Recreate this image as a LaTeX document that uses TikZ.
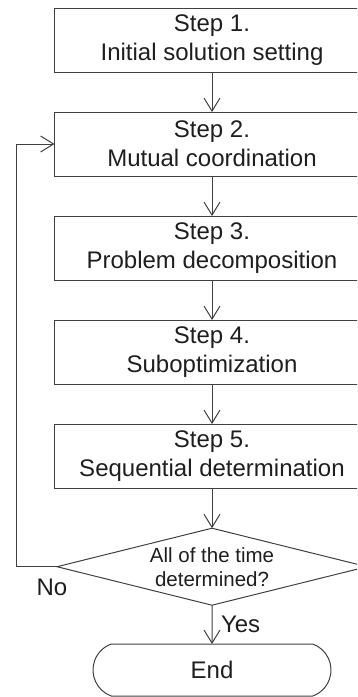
\documentclass[tikz,border=0pt]{standalone}
\usepackage{fontspec}
\setmainfont{Liberation Sans}
\usepackage{tikz}
\usetikzlibrary{shapes.geometric,shapes.misc,arrows.meta}
\definecolor{flowLine}{RGB}{64,64,64}
\definecolor{flowText}{RGB}{30,30,30}

\begin{document}
\begin{tikzpicture}[x=1pt, y=1pt, line width=1pt]%
  \tikzset{normal arrow/.style={draw,-{Straight Barb[length=13pt,width=16pt]},flowLine}}
  \tikzstyle{every node}=[draw=flowLine, text=flowText, outer sep=0pt, inner sep=0pt, align=center, font=\fontsize{24}{29}\selectfont]
  \tikzstyle{stepbox}=[rectangle, minimum width=315pt, minimum height=64pt, node distance=104pt]

  \useasboundingbox (0,0) rectangle (357,-697);
  \clip (0,0) rectangle (357,-697);

  \node[stepbox] at (212,-40) (S1) {Step 1.\\ Initial solution setting};
  \node[stepbox] (S2) [below of=S1] {Step 2.\\ Mutual coordination};
  \node[stepbox] (S3) [below of=S2] {Step 3.\\ Problem decomposition};
  \node[stepbox] (S4) [below of=S3] {Step 4.\\ Suboptimization};
  \node[stepbox] (S5) [below of=S4] {Step 5.\\ Sequential determination};
  \node[diamond, shape aspect=4, minimum width=310pt, minimum height=77pt, font=\fontsize{20.5}{24}\selectfont] at (212,-566.7) (DONE) {All of the time\\ determined?};
  \node[rounded rectangle, rounded rectangle arc length=140, minimum width=238pt, minimum height=52pt] at (212,-670) (END) {End};
  \node[draw=none] at (52,-587) (NO) {No};

  % \node[stepbox] at (212,-40) (S0) {Step 0.};

  \path[normal arrow] (S1) edge (S2);
  \path[normal arrow] (S2) edge (S3);
  \path[normal arrow] (S3) edge (S4);
  \path[normal arrow] (S4) edge (S5);
  \path[normal arrow] (S5) edge (DONE);
  \path[normal arrow] (DONE) -- node[draw=none, right=9pt] (YES) {Yes} (END);
  \path[normal arrow] (DONE.west) -- ++(-41,0) |- (S2.west);
\end{tikzpicture}
\end{document}
